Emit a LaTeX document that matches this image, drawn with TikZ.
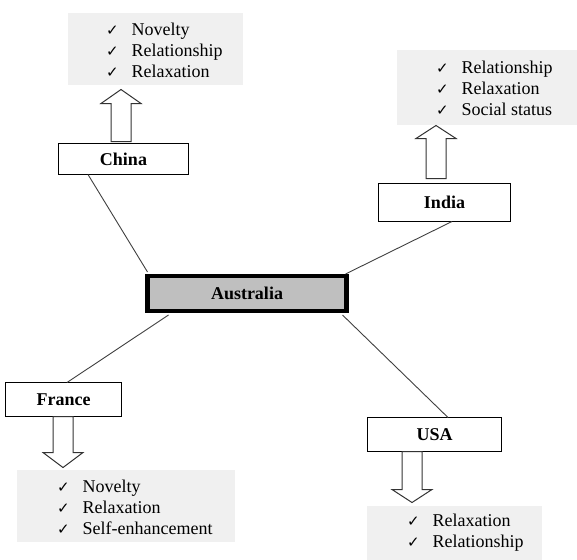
\documentclass[tikz,border=0pt]{standalone}
\usepackage{fontspec}
\setmainfont{Liberation Serif}
\newfontfamily\ckfont{DejaVu Sans}
\newcommand{\ck}{\makebox[25.5pt][l]{\ckfont\fontsize{15}{15}\selectfont ✓}}
\tikzset{
  country/.style={draw=black, line width=1.2pt, fill=white, inner sep=0pt, outer sep=0pt, font=\fontsize{18}{21}\selectfont\bfseries},
  hub/.style={draw=black, line width=4.5pt, fill=gray!50, inner sep=0pt, outer sep=0pt, font=\fontsize{18}{21}\selectfont\bfseries},
  listbox/.style={fill=black!6, draw=none, inner sep=0pt, outer sep=0pt},
  listtext/.style={align=left, inner sep=0pt, anchor=west, font=\fontsize{18}{21}\selectfont},
  link/.style={draw=black!75, line width=0.9pt},
  blk/.style={draw=black!80, line width=1pt, fill=white, line join=miter}
}
\begin{document}
\begin{tikzpicture}[x=1pt,y=-1pt]
\useasboundingbox (0,0) rectangle (577,559);
% list boxes
\node[listbox, minimum width=175pt, minimum height=72pt] (chinaL) at (155.5,49) {};
\node[listbox, minimum width=180pt, minimum height=75pt] (indiaL) at (487,87.5) {};
\node[listbox, minimum width=218pt, minimum height=72pt] (franceL) at (126,506) {};
\node[listbox, minimum width=175pt, minimum height=66pt] (usaL) at (454.5,539) {};
\node[listtext] (chinaT) at (106,50) {\ck Novelty\\ \ck Relationship\\ \ck Relaxation};
\node[listtext] (indiaT) at (436,88) {\ck Relationship\\ \ck Relaxation\\ \ck Social status};
\node[listtext] (franceT) at (57,507) {\ck Novelty\\ \ck Relaxation\\ \ck Self-enhancement};
\node[listtext] (usaT) at (407,532.5) {\ck Relaxation\\ \ck Relationship};
% boxes
\node[hub, minimum width=199pt, minimum height=35pt] (aus) at (247,293.5) {Australia};
\node[country, minimum width=130pt, minimum height=31pt] (china) at (123.5,159) {China};
\node[country, minimum width=132pt, minimum height=38pt] (india) at (444.5,202.5) {India};
\node[country, minimum width=116pt, minimum height=34pt] (france) at (63.5,399.5) {France};
\node[country, minimum width=134pt, minimum height=34pt] (usa) at (434.5,434.5) {USA};
% connectors
\draw[link] ([xshift=-35.5pt]china.south) -- ([yshift=4pt]aus.north west);
\draw[link] ([xshift=7.5pt]india.south) -- ([xshift=-1pt,yshift=2pt]aus.north east);
\draw[link] ([xshift=21pt,yshift=-4pt]aus.south west) -- ([xshift=3.5pt]france.north);
\draw[link] ([xshift=-4pt,yshift=-4pt]aus.south east) -- ([xshift=13.5pt]usa.north);
% block arrows
\draw[blk] ([xshift=-12.5pt,yshift=2pt]china.north) -- ++(0,-38) -- ++(-10,0) -- ++(20,-14) -- ++(20,14) -- ++(-10,0) -- ++(0,38) -- cycle;
\draw[blk] ([xshift=-18.5pt,yshift=5pt]india.north) -- ++(0,-40) -- ++(-10,0) -- ++(20,-13) -- ++(20,13) -- ++(-10,0) -- ++(0,40) -- cycle;
\draw[blk] ([xshift=-10.5pt]france.south) -- ++(0,36) -- ++(-10,0) -- ++(20,15) -- ++(20,-15) -- ++(-10,0) -- ++(0,-36) -- cycle;
\draw[blk] ([xshift=-32.5pt]usa.south) -- ++(0,38) -- ++(-10,0) -- ++(20,13) -- ++(20,-13) -- ++(-10,0) -- ++(0,-38) -- cycle;
\end{tikzpicture}
\end{document}
